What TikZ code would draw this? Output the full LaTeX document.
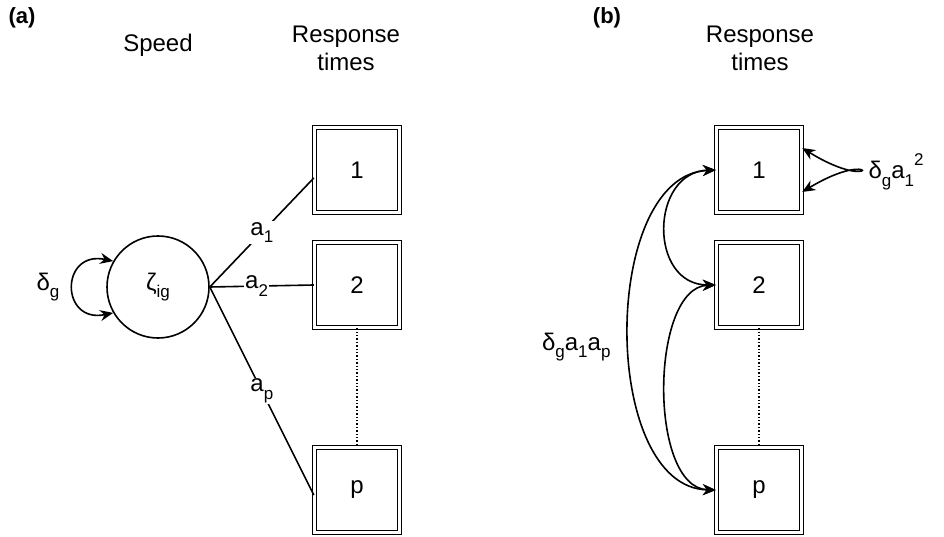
\documentclass[tikz,border=0pt]{standalone}
\usepackage{fontspec}
\setmainfont{Liberation Sans}
\usetikzlibrary{arrows.meta}
\newcommand{\lsub}[1]{\raisebox{-0.32em}{\fontsize{17}{17}\selectfont #1}}
\newcommand{\lsup}[1]{\raisebox{0.55em}{\fontsize{17}{17}\selectfont #1}}
\begin{document}
\begin{tikzpicture}[x=1pt,y=-1pt,
  every node/.style={font=\fontsize{24}{28}\selectfont},
  box/.style={draw, double, double distance=3pt, line width=1.4pt, minimum size=85pt, inner sep=0pt},
  lat/.style={draw, circle, line width=1.6pt, minimum size=102pt, inner sep=0pt},
  ln/.style={line width=1.6pt},
  arr/.style={line width=1.6pt, {Stealth[length=13pt,width=11pt]}-{Stealth[length=13pt,width=11pt]}},
  lbl/.style={fill=white, inner sep=1pt}]
\useasboundingbox (0,0) rectangle (944,537);
% (a)
\node[font=\fontsize{22}{26}\selectfont\bfseries] (la) at (22,18) {(a)};
\node (sp) at (158,45) {Speed};
\node[align=center] (rta) at (346,48) {Response\\times};
\node[lat] (z) at (158,287) {ζ\lsub{ig}};
\node[box] (a1) at (357,170) {1};
\node[box] (a2) at (357,285) {2};
\node[box] (ap) at (357,490) {p};
\draw[ln] (z.east) -- node[lbl, pos=0.5] {a\lsub{1}} ([yshift=-8pt]a1.west);
\draw[ln] (z.east) -- node[lbl, pos=0.45] {a\lsub{2}} (a2.west);
\draw[ln] (z.east) -- node[lbl, pos=0.5] {a\lsub{p}} ([yshift=-5pt]ap.west);
\draw[line width=1.4pt, dotted] (a2.south) -- (ap.north);
\draw[arr] (z.150) .. controls (60,250) and (60,324) .. (z.210);
\node (dg) at (48,287) {δ\lsub{g}};
% (b)
\node[font=\fontsize{22}{26}\selectfont\bfseries] (lb) at (607,18) {(b)};
\node[align=center] (rtb) at (760,48) {Response\\times};
\node[box] (b1) at (759,170) {1};
\node[box] (b2) at (759,285) {2};
\node[box] (bp) at (759,490) {p};
\draw[line width=1.4pt, dotted] (b2.south) -- (bp.north);
\draw[arr] ([yshift=-22pt]b1.east) .. controls (880,145) and (880,196) .. ([yshift=22pt]b1.east);
\node[anchor=west] (l1) at (865,172) {δ\lsub{g}a\lsub{1}\lsup{2}};
\draw[arr] (b1.west) .. controls (650,172) and (648,285) .. (b2.west);
\draw[arr] (b2.west) .. controls (650,287) and (648,488) .. (bp.west);
\draw[arr] (b1.west) .. controls (600,175) and (600,488) .. (bp.west);
\node[anchor=east] (l2) at (614,347) {δ\lsub{g}a\lsub{1}a\lsub{p}};
\end{tikzpicture}
\end{document}
